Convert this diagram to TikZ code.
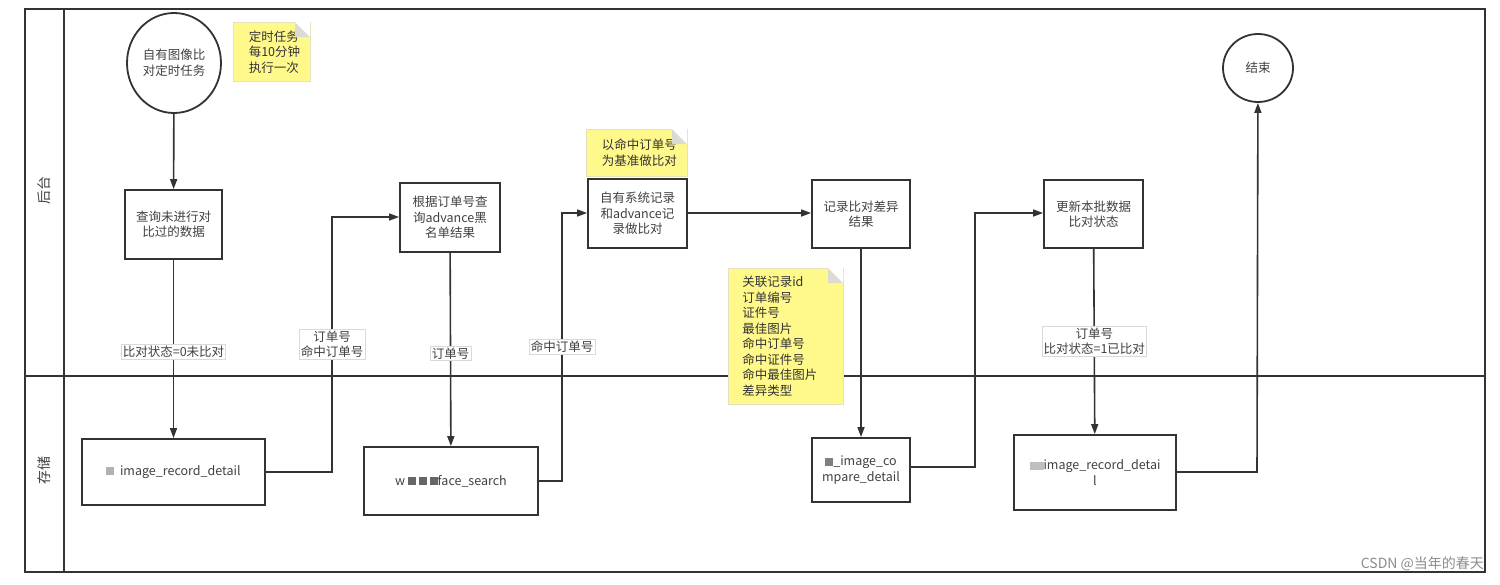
\documentclass[tikz,border=0pt]{standalone}
\usepackage{fontspec}
\setmainfont{Noto Sans CJK SC}
\usetikzlibrary{shapes.geometric,arrows.meta,shapes.misc}
\begin{document}
\begin{tikzpicture}[x=1pt,y=-1pt,
 font=\fontsize{12.5}{15.5}\selectfont,
 line width=1.6pt, draw=black!80,
 box/.style={draw=black!80,line width=1.8pt,align=center,inner sep=0pt,text=black!75},
 note/.style={fill=yellow!45,draw=yellow!60!black!30,line width=0.6pt,align=left,inner sep=0pt,text=black!80},
 arr/.style={draw=black!80,line width=1.6pt,-{Triangle[length=10pt,width=7pt]}},
 lab/.style={fill=white,draw=black!15,line width=0.4pt,align=center,inner sep=1.5pt,text=black!75}]
\useasboundingbox (0,0) rectangle (1500,584);
\draw[line width=1.8pt,draw=black!80] (25,9) rectangle (1485,572);
\draw[line width=1.8pt,draw=black!80] (64,9) -- (64,572) (25,376) -- (1485,376);
\node[rotate=90,text=black!75,font=\fontsize{14}{16}\selectfont] (l1) at (44,190) {后台};
\node[rotate=90,text=black!75,font=\fontsize{14}{16}\selectfont] (l2) at (44,470) {存储};
% nodes
\node[box,ellipse,minimum width=94pt,minimum height=100pt] (st) at (174,63) {自有图像比\\对定时任务};
\node[box,ellipse,minimum width=70pt,minimum height=68pt] (en) at (1258,68) {结束};
\node[box,minimum width=97pt,minimum height=69pt] (b1) at (173.5,224.5) {查询未进行对\\比过的数据};
\node[box,minimum width=100pt,minimum height=69pt] (b2) at (450,217.5) {根据订单号查\\询advance黑\\名单结果};
\node[box,minimum width=99pt,minimum height=69pt] (b3) at (637.5,213.5) {自有系统记录\\和advance记\\录做比对};
\node[box,minimum width=98pt,minimum height=68pt] (b4) at (861,214) {记录比对差异\\结果};
\node[box,minimum width=99pt,minimum height=68pt] (b5) at (1093.5,214) {更新本批数据\\比对状态};
\node[box,minimum width=183pt,minimum height=66pt] (s1) at (173.5,472) {\textcolor{black!30}{\rule{8pt}{8pt}}\ \ image\_record\_detail};
\node[box,minimum width=174pt,minimum height=68pt] (s2) at (451,481) {w\ \textcolor{black!60}{\rule{8pt}{8pt}\ \rule{8pt}{8pt}\ \rule{8pt}{8pt}}face\_search};
\node[box,minimum width=98pt,minimum height=64pt] (s3) at (861,470) {\textcolor{black!50}{\rule{8pt}{8pt}}\_image\_co\\mpare\_detail};
\node[box,minimum width=162pt,minimum height=75pt] (s4) at (1095,472.5) {\textcolor{black!25}{\rule{14pt}{8pt}}image\_record\_detai\\l};
% notes
\node[note,minimum width=77pt,minimum height=59pt,anchor=north west,text width=62pt] (n1) at (233,22) {\hspace*{8pt}定时任务\\\hspace*{8pt}每10分钟\\\hspace*{8pt}执行一次};
\node[note,minimum width=101pt,minimum height=47pt,anchor=north west,text width=90pt] (n2) at (586,129) {\hspace*{10pt}以命中订单号\\\hspace*{10pt}为基准做比对};
\node[note,minimum width=115pt,minimum height=136pt,anchor=north west,text width=105pt] (n3) at (728,268) {\hspace*{9pt}关联记录id\\\hspace*{9pt}订单编号\\\hspace*{9pt}证件号\\\hspace*{9pt}最佳图片\\\hspace*{9pt}命中订单号\\\hspace*{9pt}命中证件号\\\hspace*{9pt}命中最佳图片\\\hspace*{9pt}差异类型};
\fill[yellow!20!black!20] (295,22) -- (310,37) -- (295,37) -- cycle;
\fill[white] (295,22) -- (310,22) -- (310,37) -- cycle;
\fill[yellow!20!black!20] (672,129) -- (687,144) -- (672,144) -- cycle;
\fill[white] (672,129) -- (687,129) -- (687,144) -- cycle;
\fill[yellow!20!black!20] (828,268) -- (843,283) -- (828,283) -- cycle;
\fill[white] (828,268) -- (843,268) -- (843,283) -- cycle;
% coordinates
\coordinate (c1) at (332,472); \coordinate (c2) at (332,217);
\coordinate (c3) at (562,481); \coordinate (c4) at (562,213);
\coordinate (c5) at (975,467); \coordinate (c6) at (975,213);
\coordinate (c7) at (1257,472);
% edges
\draw[arr] (st) -- (b1);
\draw[arr] (b1) -- node[lab,pos=0.515] {比对状态=0未比对} (s1);
\draw[arr] (s1.east) -- (c1) -- node[lab,pos=0.5] {订单号\\命中订单号} (c2) -- (b2.west |- c2);
\draw[arr] (b2) -- node[lab,pos=0.52] {订单号} (s2);
\draw[arr] (s2.east) -- (c3) -- node[lab,pos=0.5] {命中订单号} (c4) -- (b3.west |- c4);
\draw[arr] (b3.east |- c6) -- (b4.west |- c6);
\draw[arr] (b4) -- (s3);
\draw[arr] (s3.east |- c5) -- (c5) -- (c6) -- (b5.west |- c6);
\draw[arr] (b5) -- node[lab,pos=0.5] {订单号\\比对状态=1已比对} (s4);
\draw[arr] (s4.east |- c7) -- (c7) -- (en);
\node[text=black!45,font=\fontsize{14}{16}\selectfont,anchor=east] (wm) at (1488,564) {CSDN @当年的春天};
\end{tikzpicture}
\end{document}
